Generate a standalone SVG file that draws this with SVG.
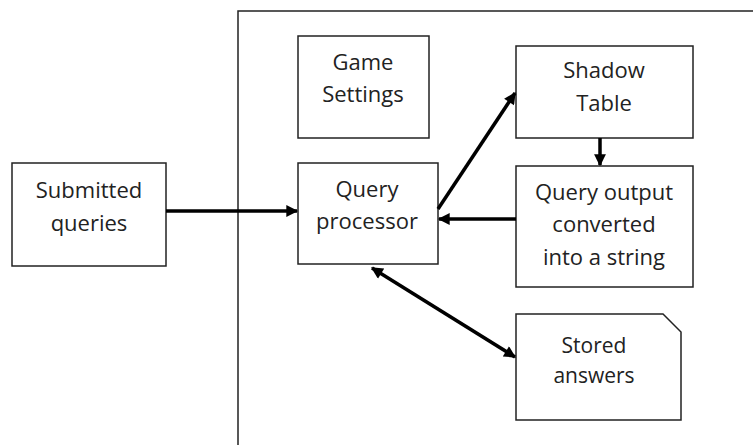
<svg xmlns="http://www.w3.org/2000/svg" width="753" height="445" viewBox="0 0 753 445">
<style>
.box{fill:#fff;stroke:#222;stroke-width:1.5}
.t{font-family:"Open Sans","Noto Sans",sans-serif;font-size:22px;fill:#222;text-anchor:middle}
.c{stroke:#000;stroke-width:3.5;fill:none}
</style>
<defs>
<marker id="ah" viewBox="0 0 10 10" refX="9" refY="5" markerWidth="4" markerHeight="3.4" orient="auto-start-reverse" markerUnits="strokeWidth">
<path d="M0,0 L10,5 L0,10 z" fill="#000"/>
</marker>
</defs>
<rect width="753" height="445" fill="#fff"/>
<g id="frame"><path d="M238,445 V11 H753" fill="none" stroke="#222" stroke-width="1.5"/></g>
<g id="submitted"><rect class="box" x="12" y="163" width="154" height="103"/><text class="t" x="89" y="198">Submitted</text><text class="t" x="89" y="231">queries</text></g>
<g id="game"><rect class="box" x="298" y="36" width="131" height="102"/><text class="t" x="363" y="70">Game</text><text class="t" x="363" y="102">Settings</text></g>
<g id="processor"><rect class="box" x="298" y="163" width="140" height="101"/><text class="t" x="367" y="197">Query</text><text class="t" x="367" y="229">processor</text></g>
<g id="shadow"><rect class="box" x="516" y="46" width="177" height="92"/><text class="t" x="604" y="78">Shadow</text><text class="t" x="604" y="111">Table</text></g>
<g id="output"><rect class="box" x="516" y="166" width="177" height="121"/><text class="t" x="604" y="200">Query output</text><text class="t" x="604" y="232">converted</text><text class="t" x="604" y="265">into a string</text></g>
<g id="stored"><path class="box" d="M516,314 H663 L681,332 V420 H516 Z"/><text class="t" x="594" y="353" style="font-size:21px">Stored</text><text class="t" x="594" y="383" style="font-size:21px">answers</text></g>
<g id="connectors">
<line class="c" x1="166" y1="211" x2="297" y2="211" marker-end="url(#ah)"/>
<line class="c" x1="438" y1="209" x2="515" y2="93" marker-end="url(#ah)"/>
<line class="c" x1="600" y1="138" x2="600" y2="165" marker-end="url(#ah)"/>
<line class="c" x1="516" y1="219" x2="439" y2="219" marker-end="url(#ah)"/>
<line class="c" x1="372" y1="268" x2="515" y2="357" marker-start="url(#ah)" marker-end="url(#ah)"/>
</g>
</svg>
